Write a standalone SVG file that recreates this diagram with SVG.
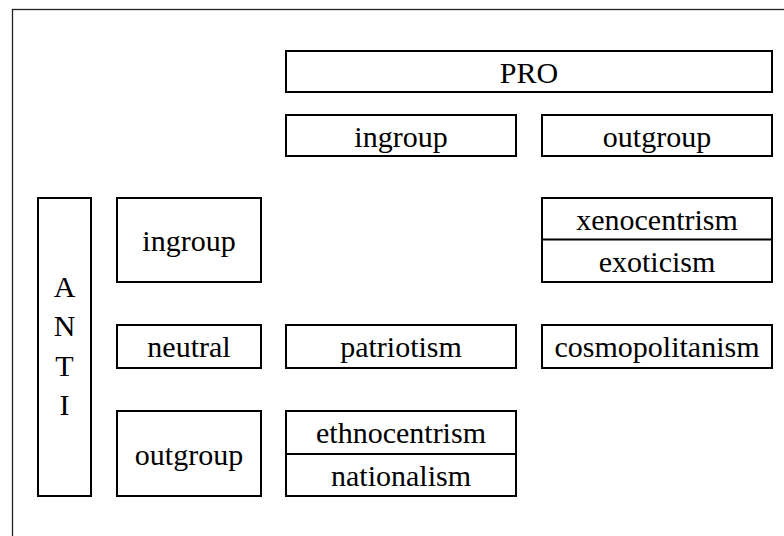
<svg xmlns="http://www.w3.org/2000/svg" width="784" height="536" viewBox="0 0 784 536">
<style>
.b{fill:none;stroke:#000;stroke-width:2}
.d{stroke:#000;stroke-width:2}
text{font-family:'Liberation Serif','Times New Roman',serif;font-size:30px;fill:#000;text-anchor:middle}
</style>
<rect x="0" y="0" width="784" height="536" fill="#fff"/>
<rect x="12.5" y="9.5" width="800" height="600" fill="none" stroke="#222" stroke-width="1.3"/>
<g id="pro"><rect class="b" x="286" y="51" width="486" height="41"/><text x="529" y="83">PRO</text></g>
<g id="pro-ingroup"><rect class="b" x="286" y="115" width="230" height="41"/><text x="401" y="147">ingroup</text></g>
<g id="pro-outgroup"><rect class="b" x="542" y="115" width="230" height="41"/><text x="657" y="147">outgroup</text></g>
<g id="anti"><rect class="b" x="38" y="198" width="53" height="298"/>
<text x="64.5" y="297">A</text><text x="64.5" y="336">N</text><text x="64.5" y="376">T</text><text x="64.5" y="415">I</text></g>
<g id="anti-ingroup"><rect class="b" x="117" y="198" width="144" height="84"/><text x="189" y="251">ingroup</text></g>
<g id="anti-neutral"><rect class="b" x="117" y="325" width="144" height="43"/><text x="189" y="357">neutral</text></g>
<g id="anti-outgroup"><rect class="b" x="117" y="411" width="144" height="85"/><text x="189" y="465">outgroup</text></g>
<g id="xenocentrism"><rect class="b" x="542" y="198" width="230" height="84"/><line class="d" x1="542" y1="239.5" x2="772" y2="239.5"/>
<text x="657" y="230">xenocentrism</text><text x="657" y="272">exoticism</text></g>
<g id="patriotism"><rect class="b" x="286" y="325" width="230" height="43"/><text x="401" y="357">patriotism</text></g>
<g id="cosmopolitanism"><rect class="b" x="542" y="325" width="230" height="43"/><text x="657" y="357">cosmopolitanism</text></g>
<g id="ethnocentrism"><rect class="b" x="286" y="411" width="230" height="85"/><line class="d" x1="286" y1="454" x2="516" y2="454" stroke-width="1.5"/>
<text x="401" y="443">ethnocentrism</text><text x="401" y="486">nationalism</text></g>
<g id="connectors"/>
</svg>
